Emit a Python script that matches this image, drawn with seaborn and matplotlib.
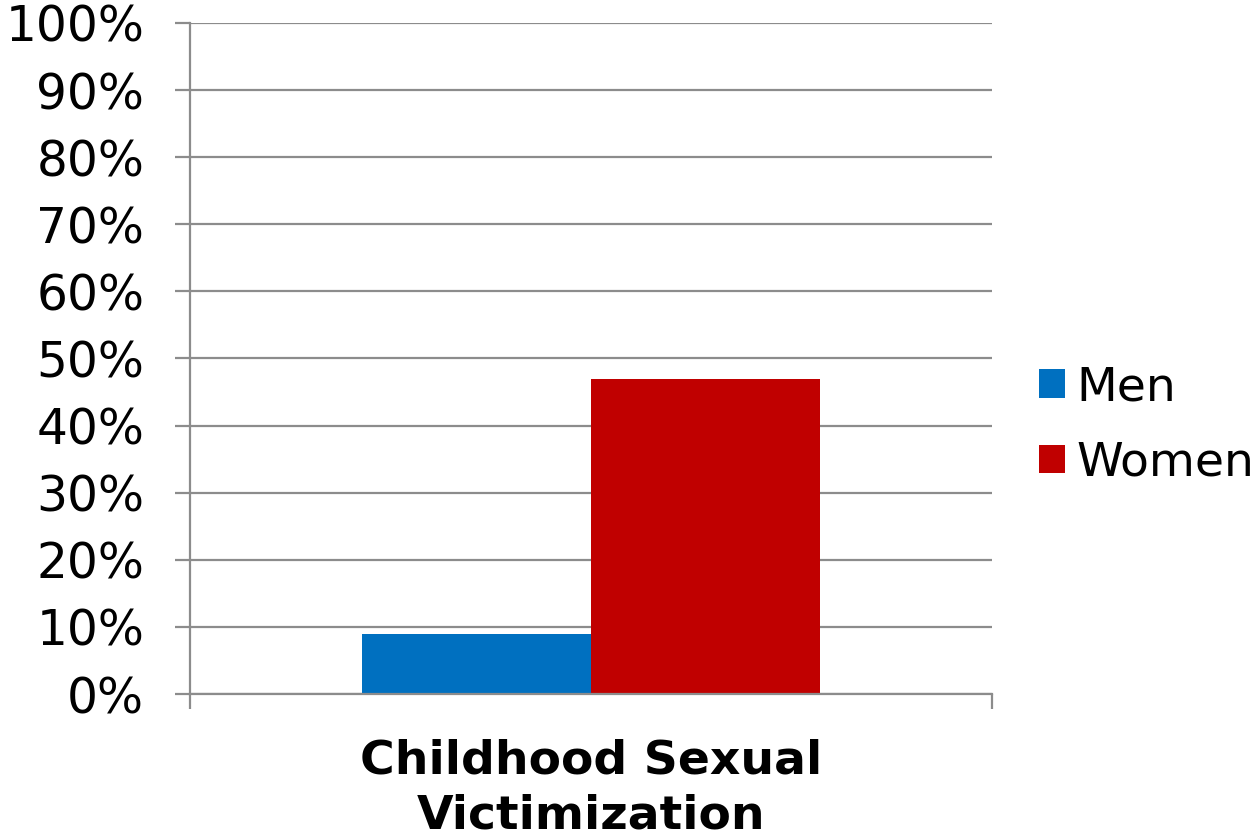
import matplotlib
matplotlib.use("Agg")
import matplotlib.pyplot as plt
import seaborn as sns
import pandas as pd
from matplotlib.ticker import PercentFormatter

# Data
categories = ["Childhood Sexual\nVictimization", "Childhood Sexual\nVictimization"]
groups = ["Men", "Women"]
values = [9, 47]
colors = ["#0070C0", "#C00000"]

df = pd.DataFrame({"Category": categories, "Group": groups, "Percent": values})

sns.set_style("white")
plt.rcParams["font.family"] = ["DejaVu Sans"]
plt.rcParams["text.color"] = "black"

fig = plt.figure(figsize=(12.6, 8.38), dpi=100)
ax = fig.add_axes([0.1508, 0.1718, 0.6365, 0.8008])

sns.barplot(data=df, x="Category", y="Percent", hue="Group", palette=colors,
            width=0.572, saturation=1, linewidth=0, ax=ax, zorder=3)

ax.set_xlim(-0.5, 0.5)
ax.set_ylim(0, 100)
ax.set_yticks(range(0, 101, 10))
ax.yaxis.set_major_formatter(PercentFormatter(decimals=0))
ax.set_xlabel("")
ax.set_ylabel("")

# gridlines and axes
ax.grid(axis="y", color="#8c8c8c", linewidth=1.6, zorder=0)
for side in ["top", "right"]:
    ax.spines[side].set_visible(False)
for side in ["left", "bottom"]:
    ax.spines[side].set_color("#8c8c8c")
    ax.spines[side].set_linewidth(1.6)
ax.spines["bottom"].set_zorder(4)

ax.tick_params(axis="y", length=11, width=1.6, color="#8c8c8c", pad=22,
               labelsize=35, labelcolor="black", direction="out", left=True)
ax.tick_params(axis="x", which="major", length=0, pad=32, labelsize=34,
               labelcolor="black")
ax.set_xticks([-0.5, 0.5], minor=True)
ax.tick_params(axis="x", which="minor", length=11, width=1.6, color="#8c8c8c",
               direction="out", bottom=True)
for lab in ax.get_xticklabels():
    lab.set_fontweight("bold")
    lab.set_linespacing(1.3)

leg = ax.legend(loc="center left", bbox_to_anchor=(1.035, 0.4), frameon=False,
                fontsize=34, handlelength=0.55, handleheight=0.55,
                handletextpad=0.25, labelspacing=0.65, borderaxespad=0)

plt.savefig("out.png", dpi=100)
